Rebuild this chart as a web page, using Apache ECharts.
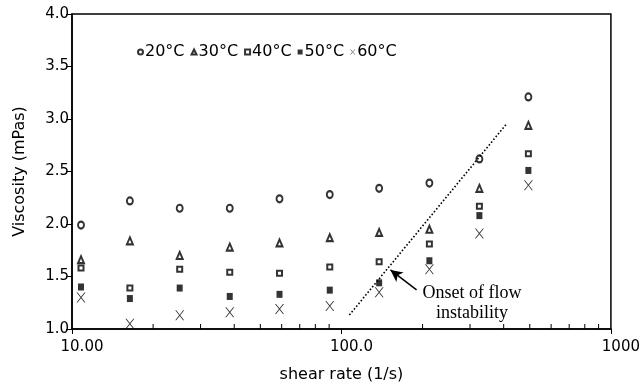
<!DOCTYPE html>
<html>
<head>
<meta charset="utf-8">
<script src="https://cdn.jsdelivr.net/npm/echarts@6/dist/echarts.min.js"></script>
<style>
  html, body { margin: 0; padding: 0; background: #fff; }
  #chart { width: 643px; height: 388px; }
</style>
</head>
<body>
<div id="chart"></div>
<script>
// Shear rates (1/s) at which viscosity was measured
const shearRate = [10.8, 16.4, 25.1, 38.5, 58.9, 90.5, 138, 212, 325, 494];

// Viscosity (mPas) per temperature
const visc20 = [1.99, 2.22, 2.15, 2.15, 2.24, 2.28, 2.34, 2.39, 2.62, 3.21];
const visc30 = [1.66, 1.84, 1.70, 1.78, 1.82, 1.87, 1.92, 1.95, 2.34, 2.94];
const visc40 = [1.58, 1.39, 1.57, 1.54, 1.53, 1.59, 1.64, 1.81, 2.17, 2.67];
const visc50 = [1.40, 1.29, 1.39, 1.31, 1.33, 1.37, 1.44, 1.65, 2.08, 2.51];
const visc60 = [1.30, 1.05, 1.13, 1.16, 1.19, 1.22, 1.35, 1.57, 1.91, 2.37];

const seriesNames = ['20°C', '30°C', '40°C', '50°C', '60°C'];

// Guide line marking where the flow becomes unstable
const onsetRate = [107, 408];
const onsetVisc = [1.133, 2.947];

// Arrow from the annotation to the guide line
const arrowFrom = [190, 1.373];
const arrowTo = [152, 1.563];

const xTickLabels = { 10: '10.00', 100: '100.0', 1000: '1000' };

// Intermediate decade ticks on the log axis
const xMinorTicks = [20, 30, 40, 50, 60, 70, 80, 90, 200, 300, 400, 500, 600, 700, 800, 900];

const crossPath = 'path://M0,0L1.2,0L5,4.3L8.8,0L10,0L5.6,5L10,10L8.8,10L5,5.7L1.2,10L0,10L4.4,5Z';

function pairs(xs, ys) { return xs.map((x, i) => [x, ys[i]]); }

const chart = echarts.init(document.getElementById('chart'));

const sansFont = 'DejaVu Sans';
const yMin = 1;

chart.setOption({
  animation: false,
  backgroundColor: '#fff',
  grid: {
    left: 72, right: 28, top: 14, bottom: 58,
    show: true, borderColor: '#000', borderWidth: 1.5, backgroundColor: 'transparent'
  },
  legend: {
    left: 132, top: 39,
    itemWidth: 5, itemHeight: 5, itemGap: 6,
    textStyle: { fontFamily: sansFont, fontSize: 16, color: '#000', padding: [0, 0, 0, -3] },
    data: [
      { name: '20°C', icon: 'emptyCircle' },
      { name: '30°C', icon: 'emptyTriangle' },
      { name: '40°C', icon: 'emptyRect' },
      { name: '50°C', icon: 'rect' },
      { name: '60°C', icon: crossPath }
    ]
  },
  xAxis: {
    type: 'log', logBase: 10, min: 10, max: 1000,
    name: 'shear rate (1/s)', nameLocation: 'middle', nameGap: 38,
    nameTextStyle: { fontFamily: sansFont, fontSize: 16, color: '#000' },
    axisLine: { lineStyle: { color: '#000', width: 1.5 } },
    axisTick: { show: true, inside: false, length: 5, lineStyle: { color: '#000', width: 1 } },
    splitLine: { show: false },
    axisLabel: {
      fontFamily: sansFont, fontSize: 15, color: '#000', margin: 11,
      padding: [0, 0, 0, 20],
      formatter: v => xTickLabels[Math.round(v)] || ''
    }
  },
  yAxis: {
    type: 'value', min: yMin, max: 4, interval: 0.5,
    name: 'Viscosity (mPas)', nameLocation: 'middle', nameGap: 44,
    nameTextStyle: { fontFamily: sansFont, fontSize: 16, color: '#000' },
    axisLine: { show: true, lineStyle: { color: '#000', width: 1.5 } },
    axisTick: { show: true, inside: false, length: 6, lineStyle: { color: '#000', width: 1 } },
    splitLine: { show: false },
    axisLabel: {
      fontFamily: sansFont, fontSize: 15, color: '#000', margin: 3,
      formatter: v => v.toFixed(1)
    }
  },
  series: [
    {
      name: seriesNames[0], type: 'scatter', data: pairs(shearRate, visc20),
      symbol: 'emptyCircle', symbolSize: [6, 7],
      itemStyle: { color: '#000', borderColor: '#000', borderWidth: 1 }
    },
    {
      name: seriesNames[1], type: 'scatter', data: pairs(shearRate, visc30),
      symbol: 'emptyTriangle', symbolSize: [6, 7],
      itemStyle: { color: '#000', borderColor: '#000', borderWidth: 1 }
    },
    {
      name: seriesNames[2], type: 'scatter', data: pairs(shearRate, visc40),
      symbol: 'emptyRect', symbolSize: [5, 5],
      itemStyle: { color: '#000', borderColor: '#000', borderWidth: 1 }
    },
    {
      name: seriesNames[3], type: 'scatter', data: pairs(shearRate, visc50),
      symbol: 'rect', symbolSize: [6, 7],
      itemStyle: { color: '#000' }
    },
    {
      name: seriesNames[4], type: 'scatter', data: pairs(shearRate, visc60),
      symbol: crossPath, symbolSize: [9, 10],
      itemStyle: { color: '#000' }
    },
    {
      name: 'onset', type: 'line', data: pairs(onsetRate, onsetVisc),
      symbol: 'none', silent: true,
      lineStyle: { color: '#000', width: 1.6, type: [1.6, 2] },
      markLine: {
        silent: true, symbol: ['none', 'arrow'], symbolSize: [9, 12],
        label: { show: false },
        lineStyle: { color: '#000', width: 1.5, type: 'solid' },
        data: [[{ coord: arrowFrom }, { coord: arrowTo }]]
      }
    },
    {
      // short inward ticks between the decades
      name: 'minorTicks', type: 'custom', silent: true, clip: false, z: 5,
      data: xMinorTicks.map(v => [v, yMin]),
      renderItem: (params, api) => {
        const p = api.coord([api.value(0), api.value(1)]);
        return {
          type: 'line',
          shape: { x1: p[0], y1: p[1], x2: p[0], y2: p[1] - 5 },
          style: { stroke: '#000', lineWidth: 1 }
        };
      }
    }
  ],
  graphic: [
    {
      type: 'text', x: 472, y: 283,
      style: {
        text: 'Onset of flow\ninstability',
        fontFamily: 'Liberation Serif', fontSize: 18, lineHeight: 20,
        fill: '#000', align: 'center', verticalAlign: 'top'
      }
    }
  ]
});
</script>
</body>
</html>
